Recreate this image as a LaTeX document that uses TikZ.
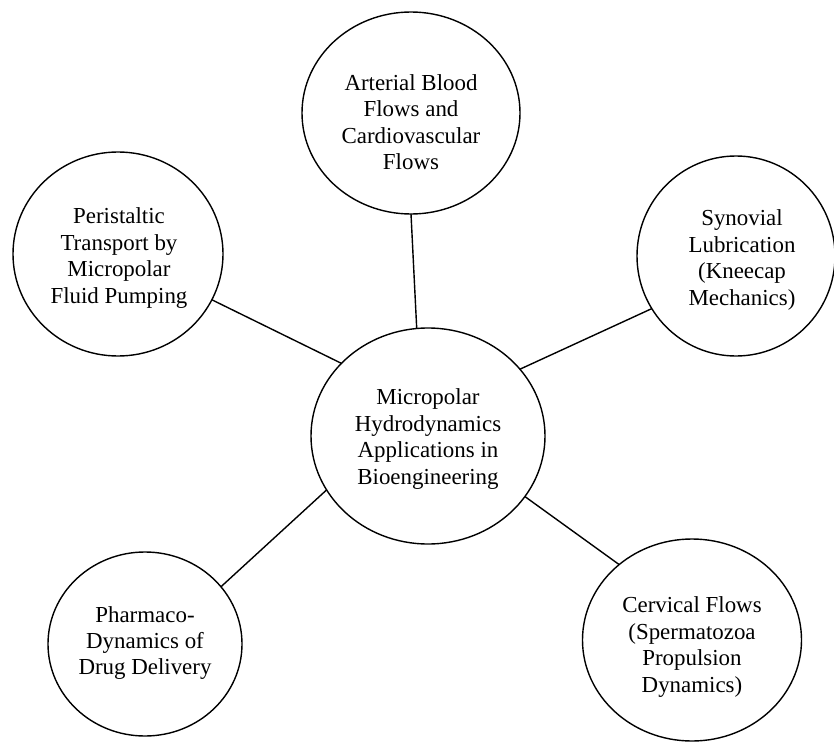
\documentclass[tikz,border=0pt]{standalone}
\usepackage{fontspec}
\setmainfont{Liberation Serif}
\usetikzlibrary{shapes.geometric}
\begin{document}
\begin{tikzpicture}[x=1bp,y=-1bp,
  bubble/.style={draw, line width=1.4bp, ellipse, inner sep=0pt, outer sep=0pt},
  lbl/.style={align=center, font=\fontsize{23}{26.5}\selectfont, inner sep=0pt},
  link/.style={line width=1.4bp}]
\useasboundingbox (0,0) rectangle (834,742);
% bubbles
\node[bubble, minimum width=218bp, minimum height=202bp] (A) at (411,113) {};
\node[bubble, minimum width=210bp, minimum height=204bp] (L) at (118,254) {};
\node[bubble, minimum width=198bp, minimum height=200bp] (R) at (736,256) {};
\node[bubble, minimum width=234bp, minimum height=216bp] (C) at (428,436) {};
\node[bubble, minimum width=194bp, minimum height=184bp] (BL) at (145,644) {};
\node[bubble, minimum width=219bp, minimum height=202bp] (BR) at (692,640) {};
% texts
\node[lbl] (At) at (411,122) {Arterial Blood\\Flows and\\Cardiovascular\\Flows};
\node[lbl] (Lt) at (119,258) {Peristaltic\\Transport by\\Micropolar\\Fluid Pumping};
\node[lbl] (Rt) at (742,260) {Synovial\\Lubrication\\(Kneecap\\Mechanics)};
\node[lbl] (Ct) at (428,439) {Micropolar\\Hydrodynamics\\Applications in\\Bioengineering};
\node[lbl] (BLt) at (145,643) {Pharmaco-\\Dynamics of\\Drug Delivery};
\node[lbl] (BRt) at (692,647) {Cervical Flows\\(Spermatozoa\\Propulsion\\Dynamics)};
% connectors
\draw[link] (A.south) -- (C.96);
\draw[link] (L.-26) -- (C.140);
\draw[link] (R.212) -- (C.36);
\draw[link] (BL.37) -- (C.208);
\draw[link] (BR.134) -- (C.-32);
\end{tikzpicture}
\end{document}
